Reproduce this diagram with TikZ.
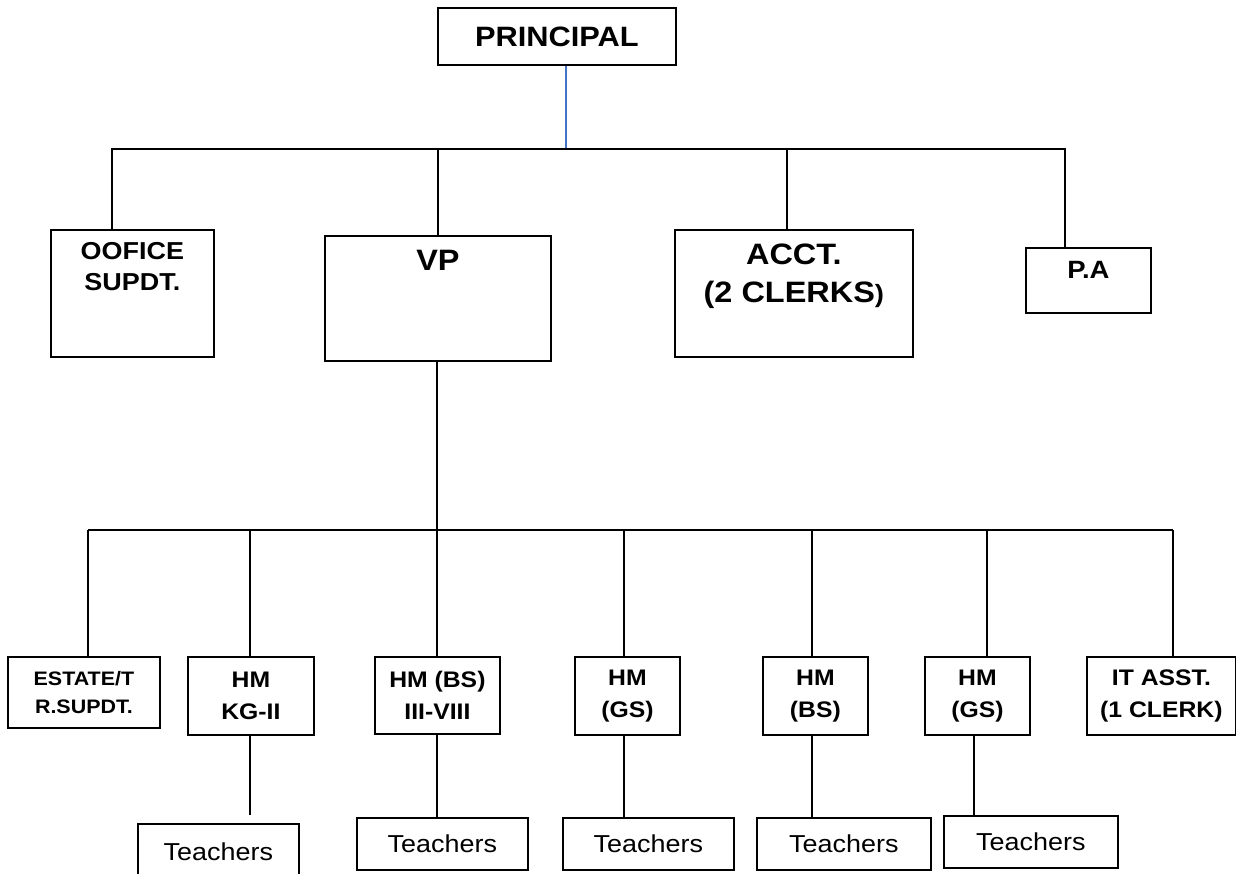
\documentclass[tikz,border=0pt]{standalone}
\usepackage{fontspec}
\setmainfont{Liberation Sans}[FakeStretch=1.1]
\definecolor{lineblue}{RGB}{68,114,196}
\newcommand\tbx[4]{\parbox[c][#2][t]{#1}{\centering\vspace*{#3}#4\par}}
\newcommand\fs[2]{\fontsize{#1}{#2}\selectfont}
\begin{document}
\begin{tikzpicture}[x=1pt,y=-1pt,
  bx/.style={draw, line width=1.8pt, inner sep=0pt, anchor=north west, align=center},
  hm/.style={bx, minimum height=78pt, font=\bfseries\fs{22.5}{31.5}},
  tb/.style={bx, minimum height=52pt, font=\fs{24.5}{30}},
  cx/.style={line width=1.4pt}]
\useasboundingbox (0,0) rectangle (1236,874);
\clip (0,0) rectangle (1236,874);

% top
\node[bx, minimum width=238pt, minimum height=57pt, font=\bfseries\fs{28}{34}] (pr) at (437,7) {PRINCIPAL};

% middle row
\node[bx, font=\bfseries] (os) at (50,229) {\tbx{163pt}{127pt}{12.7pt}{\fs{24.5}{30.5}OOFICE\\SUPDT.}};
\node[bx, font=\bfseries] (vp) at (324,235) {\tbx{226pt}{125pt}{14.3pt}{\fs{29.5}{36}VP}};
\node[bx, font=\bfseries] (ac) at (674,229) {\tbx{238pt}{127pt}{14pt}{\fs{29.5}{37.7}ACCT.\\(2 CLERKS{\fs{25}{25})}}};
\node[bx, font=\bfseries] (pa) at (1025,247) {\tbx{125pt}{65pt}{13pt}{\fs{25}{30}P.A}};

% bottom row
\node[hm, minimum width=152pt, minimum height=71pt, font=\bfseries\fs{19.5}{27.5}] (es) at (7,656) {ESTATE/T\\R.SUPDT.};
\node[hm, minimum width=126pt] (kg) at (187,656) {HM\\KG-II};
\node[hm, minimum width=125pt, minimum height=77pt] (h3) at (374,656) {HM (BS)\\III-VIII};
\node[hm, minimum width=105pt] (gs) at (574,656) {HM\\(GS)};
\node[hm, minimum width=105pt] (bs) at (762,656) {HM\\(BS)};
\node[hm, minimum width=105pt] (gt) at (924,656) {HM\\(GS)};
\node[hm, minimum width=149pt] (it) at (1086,656) {IT ASST.\\(1 CLERK)};

% teachers
\node[tb, minimum width=161pt, minimum height=56pt] (t1) at (137,823) {Teachers};
\node[tb, minimum width=171pt] (t2) at (356,817) {Teachers};
\node[tb, minimum width=171pt] (t3) at (562,817) {Teachers};
\node[tb, minimum width=174pt] (t4) at (756,817) {Teachers};
\node[tb, minimum width=174pt] (t5) at (943,815) {Teachers};

% upper connectors
\coordinate (j0) at (566,149);
\coordinate (b1) at (112,149);
\coordinate (b3) at (787,149);
\coordinate (b4) at (1065,149);
\draw[cx, lineblue] (pr.south -| j0) -- (j0);
\draw[cx] (b1 |- os.north) -- (b1) -- (b4) -- (b4 |- pa.north);
\draw[cx] (vp.north) -- (vp.north |- b1);
\draw[cx] (b3) -- (b3 |- ac.north);

% lower bus
\coordinate (l1) at (88,530);
\coordinate (l7) at (1173,530);
\coordinate (lv) at (437,530);
\draw[cx] (lv |- vp.south) -- (lv);
\draw[cx] (l1) -- (l7);
\foreach \n/\x in {es/88, kg/250, h3/437, gs/624, bs/812, gt/987, it/1173}{
  \coordinate (e\n) at (\x,530);
  \draw[cx] (e\n) -- (e\n |- \n.north);
}

% teacher connectors
\coordinate (tk) at (250,815);
\draw[cx] (tk |- kg.south) -- (tk);
\coordinate (c2) at (437,0);
\coordinate (c3) at (624,0);
\coordinate (c4) at (812,0);
\coordinate (c5) at (974,0);
\draw[cx] (c2 |- h3.south) -- (c2 |- t2.north);
\draw[cx] (c3 |- gs.south) -- (c3 |- t3.north);
\draw[cx] (c4 |- bs.south) -- (c4 |- t4.north);
\draw[cx] (c5 |- gt.south) -- (c5 |- t5.north);
\end{tikzpicture}
\end{document}
